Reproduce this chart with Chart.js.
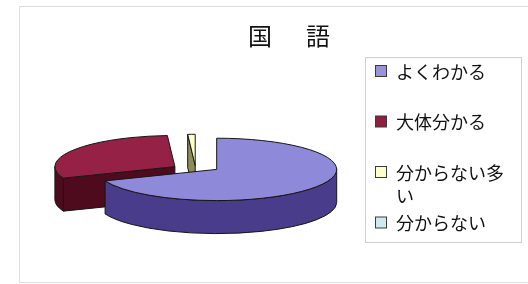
<!DOCTYPE html>
<html>
<head>
<meta charset="utf-8">
<script src="https://cdn.jsdelivr.net/npm/chart.js@4.4.1/dist/chart.umd.min.js"></script>
<style>
  html, body { margin: 0; padding: 0; background: #fff; }
  #wrap { width: 528px; height: 284px; }
</style>
</head>
<body>
<div id="wrap"><canvas id="chart" width="528" height="284"></canvas></div>
<script>
// chart data
const chartTitle = '国　語';
const categories = ['よくわかる', '大体分かる', '分からない多い', '分からない'];
const shares = [69, 30, 1, 0];

// colours: top face, side walls, legend marker
const faceColors = ['#8f89d9', '#952146', '#ffffcc', '#ccffff'];
const sideColors = ['#483c8b', '#4e0b1d', '#8d8b56', '#7fa9ad'];
const legendColors = ['#9993da', '#8e1f3f', '#ffffcc', '#cdebef'];

const FONT = '"Noto Sans CJK JP", "Noto Sans", sans-serif';
const SX = 1.25;      // horizontal stretch of the flattened pie
const TILT = 0.26;    // ry / rx
const DEPTH = 0.275;  // wall height / rx
const OFF_TILT = 0.1; // vertical share of the explode offset

// draws the pie as an Excel style 3D pie, using the arcs Chart.js laid out
const pie3d = {
    id: 'pie3d',
    beforeDatasetsDraw(chart) {
        const ctx = chart.ctx;
        const arcs = chart.getDatasetMeta(0).data;
        const slices = [];

        arcs.forEach((arc, i) => {
            const p = arc.getProps(['x', 'y', 'startAngle', 'endAngle', 'outerRadius'], true);
            if (p.endAngle - p.startAngle < 1e-6) return;
            const rx = p.outerRadius * SX;
            const mid = (p.startAngle + p.endAngle) / 2;
            const off = (arc.options.offset || 0) * SX;
            slices.push({
                i: i,
                s: p.startAngle,
                e: p.endAngle,
                mid: mid,
                rx: rx,
                ry: rx * TILT,
                d: rx * DEPTH,
                cx: p.x + off * Math.cos(mid),
                cy: p.y + off * OFF_TILT * Math.sin(mid)
            });
        });

        // back slices first
        slices.sort((a, b) => Math.sin(a.mid) - Math.sin(b.mid));

        ctx.save();
        ctx.lineWidth = 1;
        ctx.strokeStyle = '#161616';
        ctx.lineJoin = 'round';

        slices.forEach(sl => {
            const {cx, cy, rx, ry, d, s, e} = sl;
            const pt = a => [cx + rx * Math.cos(a), cy + ry * Math.sin(a)];

            // cut faces that look toward the viewer
            [[s, s - Math.PI / 2], [e, e + Math.PI / 2]].forEach(([a, n]) => {
                if (Math.sin(n) <= 0.001) return;
                const [px, py] = pt(a);
                ctx.beginPath();
                ctx.moveTo(cx, cy);
                ctx.lineTo(px, py);
                ctx.lineTo(px, py + d);
                ctx.lineTo(cx, cy + d);
                ctx.closePath();
                ctx.fillStyle = sideColors[sl.i];
                ctx.fill();
                ctx.stroke();
            });

            // outer wall, front half only
            [-2 * Math.PI, 0, 2 * Math.PI].forEach(k => {
                const lo = Math.max(s, k);
                const hi = Math.min(e, k + Math.PI);
                if (hi - lo <= 0.001) return;
                const [hx, hy] = pt(hi);
                ctx.beginPath();
                ctx.ellipse(cx, cy, rx, ry, 0, lo, hi, false);
                ctx.lineTo(hx, hy + d);
                ctx.ellipse(cx, cy + d, rx, ry, 0, hi, lo, true);
                ctx.closePath();
                ctx.fillStyle = sideColors[sl.i];
                ctx.fill();
                ctx.stroke();
            });

            // top face
            ctx.beginPath();
            ctx.moveTo(cx, cy);
            ctx.ellipse(cx, cy, rx, ry, 0, s, e, false);
            ctx.closePath();
            ctx.fillStyle = faceColors[sl.i];
            ctx.fill();
            ctx.stroke();
        });

        ctx.restore();
        return false;
    }
};

// frame, title and legend
const decor = {
    id: 'decor',
    beforeDraw(chart) {
        const ctx = chart.ctx;
        ctx.save();
        ctx.fillStyle = '#fff';
        ctx.fillRect(0, 0, chart.width, chart.height);
        ctx.strokeStyle = '#dedede';
        ctx.lineWidth = 1;
        ctx.strokeRect(19.5, 6.5, 600, 276);
        ctx.restore();
    },
    afterDraw(chart) {
        const ctx = chart.ctx;
        ctx.save();

        // title
        ctx.fillStyle = '#111';
        ctx.font = '24px ' + FONT;
        ctx.textBaseline = 'middle';
        ctx.textAlign = 'left';
        if ('letterSpacing' in ctx) ctx.letterSpacing = '5px';
        ctx.fillText(chartTitle, 248, 36);
        if ('letterSpacing' in ctx) ctx.letterSpacing = '0px';

        // legend box
        ctx.strokeStyle = '#cfcfcf';
        ctx.strokeRect(365.5, 57.5, 156, 185);

        ctx.font = '18px ' + FONT;
        const maxW = 110;
        chart.data.labels.forEach((label, i) => {
            const yc = 72 + i * 50.5;
            ctx.fillStyle = legendColors[i];
            ctx.fillRect(375.5, yc - 6.5, 11, 11);
            ctx.strokeStyle = '#3a3a3a';
            ctx.strokeRect(375.5, yc - 6.5, 11, 11);

            // wrap like the original legend
            const lines = [];
            let cur = '';
            for (const ch of label) {
                if (cur && ctx.measureText(cur + ch).width > maxW) {
                    lines.push(cur);
                    cur = ch;
                } else {
                    cur += ch;
                }
            }
            lines.push(cur);
            ctx.fillStyle = '#111';
            lines.forEach((ln, k) => ctx.fillText(ln, 396, yc + k * 23));
        });

        ctx.restore();
    }
};

new Chart(document.getElementById('chart'), {
    type: 'pie',
    data: {
        labels: categories,
        datasets: [{
            data: shares,
            backgroundColor: faceColors,
            borderWidth: 0,
            offset: 20
        }]
    },
    options: {
        responsive: false,
        animation: false,
        layout: { padding: { left: 76, right: 212, top: 62, bottom: 10 } },
        plugins: {
            legend: { display: false },
            title: { display: false },
            tooltip: { enabled: false }
        }
    },
    plugins: [decor, pie3d]
});
</script>
</body>
</html>
